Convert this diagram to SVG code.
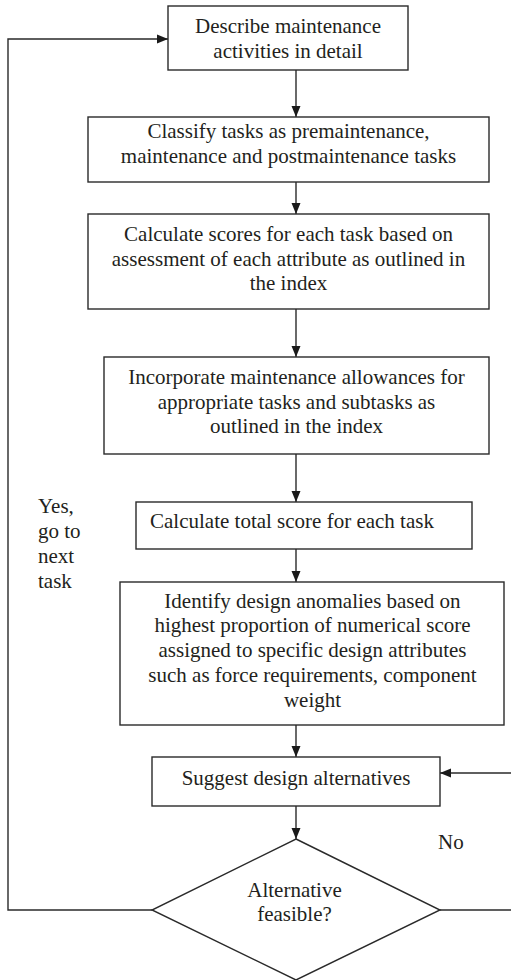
<svg xmlns="http://www.w3.org/2000/svg" width="511" height="980" viewBox="0 0 511 980" font-family="'Liberation Serif', 'Times New Roman', Times, serif">
  <style>
    .box { fill: #fff; stroke: #2a2a2a; stroke-width: 1.4; }
    .edge { fill: none; stroke: #2a2a2a; stroke-width: 1.4; }
    .t { font-family: 'Liberation Serif', 'Times New Roman', Times, serif; font-size: 21px; fill: #231f20; }
    .c { text-anchor: middle; }
  </style>
  <defs>
    <marker id="arrow" markerUnits="userSpaceOnUse" markerWidth="12" markerHeight="10" refX="11" refY="5" orient="auto">
      <path d="M0,0.5 L11,5 L0,9.5 Z" fill="#1a1a1a"/>
    </marker>
  </defs>

  <rect width="511" height="980" fill="#fff"/>

  <g id="connectors">
    <line class="edge" x1="296" y1="70" x2="296" y2="117" marker-end="url(#arrow)"/>
    <line class="edge" x1="296" y1="182" x2="296" y2="214" marker-end="url(#arrow)"/>
    <line class="edge" x1="296" y1="309" x2="296" y2="357" marker-end="url(#arrow)"/>
    <line class="edge" x1="296" y1="454" x2="296" y2="502" marker-end="url(#arrow)"/>
    <line class="edge" x1="296" y1="549" x2="296" y2="582" marker-end="url(#arrow)"/>
    <line class="edge" x1="296" y1="725" x2="296" y2="757" marker-end="url(#arrow)"/>
    <line class="edge" x1="296" y1="806" x2="296" y2="839" marker-end="url(#arrow)"/>
    <!-- yes: loop back to the first step -->
    <polyline class="edge" points="152,910 8,910 8,39 168,39" marker-end="url(#arrow)"/>
    <!-- no: back to design alternatives -->
    <line class="edge" x1="440" y1="910" x2="511" y2="910"/>
    <line class="edge" x1="511" y1="773" x2="440" y2="773" marker-end="url(#arrow)"/>
    <text class="t" x="438" y="849">No</text>
    <text class="t" x="38" y="513">Yes,</text>
    <text class="t" x="38" y="538">go to</text>
    <text class="t" x="38" y="563">next</text>
    <text class="t" x="38" y="588">task</text>
  </g>

  <g id="describe">
    <rect class="box" x="168" y="6" width="240" height="64"/>
    <text class="t c" x="288" y="32.5">Describe maintenance</text>
    <text class="t c" x="288" y="58">activities in detail</text>
  </g>

  <g id="classify">
    <rect class="box" x="88" y="117" width="401" height="65"/>
    <text class="t c" x="288.5" y="138">Classify tasks as premaintenance,</text>
    <text class="t c" x="288.5" y="163">maintenance and postmaintenance tasks</text>
  </g>

  <g id="scores">
    <rect class="box" x="88" y="214" width="401" height="95"/>
    <text class="t c" x="288.5" y="241">Calculate scores for each task based on</text>
    <text class="t c" x="288.5" y="266">assessment of each attribute as outlined in</text>
    <text class="t c" x="288.5" y="290">the index</text>
  </g>

  <g id="allowances">
    <rect class="box" x="104" y="357" width="385" height="97"/>
    <text class="t c" x="296.5" y="384">Incorporate maintenance allowances for</text>
    <text class="t c" x="296.5" y="409">appropriate tasks and subtasks as</text>
    <text class="t c" x="296.5" y="433">outlined in the index</text>
  </g>

  <g id="total">
    <rect class="box" x="136" y="502" width="336" height="47"/>
    <text class="t" x="150" y="528">Calculate total score for each task</text>
  </g>

  <g id="anomalies">
    <rect class="box" x="120" y="582" width="384" height="143"/>
    <text class="t c" x="312.5" y="608">Identify design anomalies based on</text>
    <text class="t c" x="312.5" y="632">highest proportion of numerical score</text>
    <text class="t c" x="312.5" y="657">assigned to specific design attributes</text>
    <text class="t c" x="312.5" y="682">such as force requirements, component</text>
    <text class="t c" x="312.5" y="707">weight</text>
  </g>

  <g id="alternatives">
    <rect class="box" x="152" y="757" width="288" height="49"/>
    <text class="t c" x="296" y="785">Suggest design alternatives</text>
  </g>

  <g id="feasible">
    <polygon class="box" points="296,839 440,910 296,980 152,910"/>
    <text class="t c" x="294.5" y="897">Alternative</text>
    <text class="t c" x="294.5" y="921">feasible?</text>
  </g>
</svg>
